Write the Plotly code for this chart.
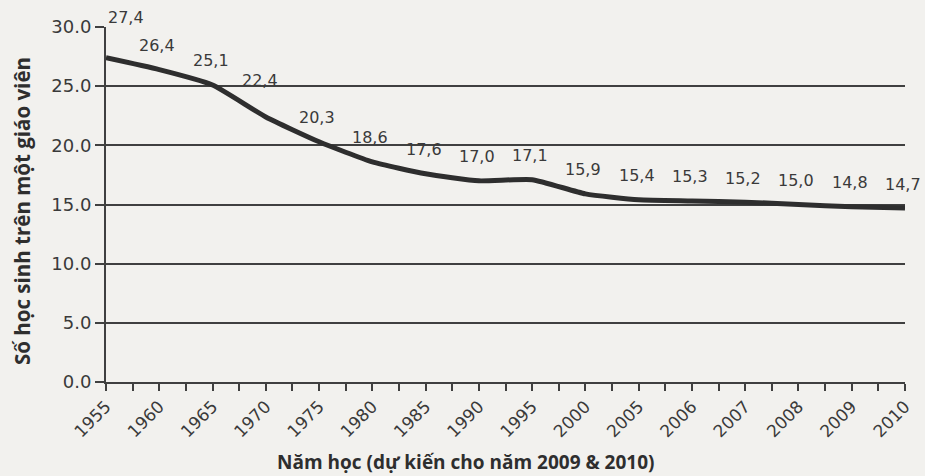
import plotly.graph_objects as go

# ---- data ----
years = ["1955", "1960", "1965", "1970", "1975", "1980", "1985", "1990",
         "1995", "2000", "2005", "2006", "2007", "2008", "2009", "2010"]
ratio = [27.4, 26.4, 25.1, 22.4, 20.3, 18.6, 17.6, 17.0,
         17.1, 15.9, 15.4, 15.3, 15.2, 15.0, 14.8, 14.7]
y_ticks = [0, 5, 10, 15, 20, 25, 30]

y_title = "Số học sinh trên một giáo viên"
x_title = "Năm học (dự kiến cho năm 2009 & 2010)"

# ---- styling ----
BG = "#f2f1ee"
INK = "#2e2e2e"
GRID = "#404040"
NUM_FONT = "DejaVu Sans"
TITLE_FONT = "Open Sans"

xs = list(range(len(years)))

fig = go.Figure()
fig.add_trace(go.Scatter(
    x=xs, y=ratio, mode="lines",
    line=dict(color=INK, width=5, shape="spline", smoothing=0.5),
    hoverinfo="skip", showlegend=False, cliponaxis=False,
))

# data labels (comma decimal separator as in the source)
label_shift = {0: (20, 40), 3: (-6, 36)}
for i, (x, v) in enumerate(zip(xs, ratio)):
    dx, dy = label_shift.get(i, (-2, 24))
    fig.add_annotation(
        x=x, y=v, text=f"{v:.1f}".replace(".", ","), showarrow=False,
        xshift=dx, yshift=dy, xanchor="center", yanchor="middle",
        font=dict(family=NUM_FONT, size=16, color="#3a3a3a"),
    )

fig.add_annotation(
    xref="paper", yref="paper", x=(466 - 106) / 799, y=(382 - 462) / 355,
    text=f"<b>{x_title}</b>", showarrow=False, xanchor="center", yanchor="middle",
    font=dict(family=TITLE_FONT, size=19, color=INK),
)
fig.add_annotation(
    xref="paper", yref="paper", x=(22 - 106) / 799, y=(382 - 211) / 355,
    text=f"<b>{y_title}</b>", showarrow=False, textangle=-90,
    xanchor="center", yanchor="middle",
    font=dict(family=TITLE_FONT, size=20.5, color=INK),
)

fig.update_layout(
    width=925, height=476,
    margin=dict(l=106, r=20, t=27, b=94),
    paper_bgcolor=BG, plot_bgcolor=BG,
    showlegend=False,
    xaxis=dict(
        range=[0, len(years) - 1],
        tickmode="array", tickvals=xs, ticktext=years, tickangle=-45,
        ticks="", showgrid=False, zeroline=False,
        showline=True, linecolor=GRID, linewidth=2,
        tickfont=dict(family=NUM_FONT, size=17, color="#3a3a3a"),
        ticklabelstandoff=6,
        minor=dict(ticks="outside", ticklen=7, tickwidth=2, tickcolor=GRID,
                   tick0=0, dtick=0.5, showgrid=False),
    ),
    yaxis=dict(
        range=[0, 30], tickmode="array", tickvals=y_ticks,
        ticktext=[f"{t:.1f}" for t in y_ticks],
        ticks="outside", ticklen=9, tickwidth=2, tickcolor=GRID,
        showgrid=True, gridcolor=GRID, gridwidth=2,
        zeroline=False, showline=True, linecolor=GRID, linewidth=2,
        tickfont=dict(family=NUM_FONT, size=18, color="#3a3a3a"),
    ),
)

fig.write_html("out.html")
